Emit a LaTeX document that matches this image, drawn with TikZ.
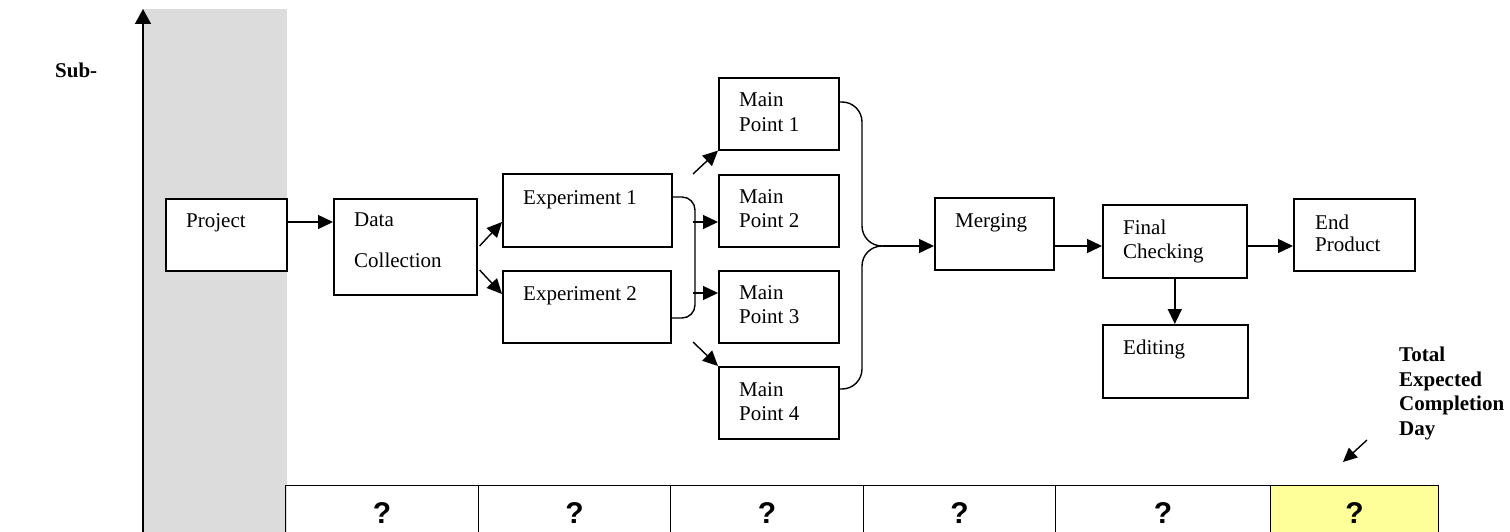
\documentclass[tikz,border=0pt]{standalone}
\usepackage{fontspec}
\setmainfont{Liberation Serif}
\newfontfamily\qfont{Liberation Sans}
\usetikzlibrary{arrows.meta,calc}
\definecolor{bandgray}{RGB}{220,220,220}
\definecolor{celly}{RGB}{255,255,153}
\begin{document}
\begin{tikzpicture}[x=1pt,y=-1pt,
  box/.style={draw, line width=1.6pt, rectangle, inner sep=0pt, anchor=north west},
  txt/.style={inner sep=0pt, anchor=north west, align=left, font=\fontsize{21}{25}\selectfont},
  btxt/.style={inner sep=0pt, anchor=north west, align=left, font=\fontsize{21}{24.5}\selectfont\bfseries},
  arr/.style={line width=1.4pt, -{Triangle[length=15pt,width=14pt]}},
  conn/.style={line width=1.4pt},
  cell/.style={draw, line width=1.2pt, rectangle, inner sep=0pt, anchor=north west, minimum height=54pt},
  qm/.style={inner sep=0pt, font=\qfont\bfseries\fontsize{30}{30}\selectfont}]
\useasboundingbox (0,0) rectangle (1510,532);
\clip (0,0) rectangle (1510,532);
\fill[white] (0,0) rectangle (1510,532);
% gray band and axis
\fill[bandgray] (143,9) rectangle (287,532);
\coordinate (axb) at (143,532);
\coordinate (axt) at (143,9);
\draw[line width=1.5pt, -{Triangle[length=15pt,width=16pt]}] (axb) -- (axt);
\node[btxt] (sub) at (55,63) {Sub-};
% boxes
\node[box, minimum width=121pt, minimum height=72pt, fill=white] (project) at (165,198) {};
\node[box, minimum width=143pt, minimum height=96pt] (dc) at (333,198) {};
\node[box, minimum width=169pt, minimum height=73pt] (e1) at (502,173) {};
\node[box, minimum width=168pt, minimum height=72pt] (e2) at (502,270) {};
\node[box, minimum width=120pt, minimum height=72pt] (mp1) at (718,77) {};
\node[box, minimum width=120pt, minimum height=72pt] (mp2) at (718,174) {};
\node[box, minimum width=120pt, minimum height=72pt] (mp3) at (718,270) {};
\node[box, minimum width=120pt, minimum height=72pt] (mp4) at (718,366) {};
\node[box, minimum width=119pt, minimum height=72pt] (merge) at (934,197) {};
\node[box, minimum width=144pt, minimum height=73pt] (fc) at (1102,204) {};
\node[box, minimum width=145pt, minimum height=73pt] (ed) at (1102,324) {};
\node[box, minimum width=121pt, minimum height=72pt] (ep) at (1293,198) {};
% texts
\node[txt] (tproject) at (186,213) {Project};
\node[txt, font=\fontsize{21}{41}\selectfont] (tdc) at (354,213) {Data\\Collection};
\node[txt] (te1) at (523,190) {Experiment 1};
\node[txt] (te2) at (523,286) {Experiment 2};
\node[txt] (tmp1) at (739,92) {Main\\Point 1};
\node[txt, font=\fontsize{21}{24}\selectfont] (tmp2) at (739,189) {Main\\Point 2};
\node[txt, font=\fontsize{21}{24}\selectfont] (tmp3) at (739,285) {Main\\Point 3};
\node[txt, font=\fontsize{21}{24}\selectfont] (tmp4) at (739,382) {Main\\Point 4};
\node[txt] (tmerge) at (955,213) {Merging};
\node[txt, font=\fontsize{21}{24}\selectfont] (tfc) at (1123,220) {Final\\Checking};
\node[txt] (ted) at (1123,340) {Editing};
\node[txt, font=\fontsize{21}{22}\selectfont] (tep) at (1315,215) {End\\Product};
\node[btxt] (total) at (1399,347) {Total\\Expected\\Completion\\Day};
% connectors
\draw[arr] ($(project.north east)+(0,24)$) -- ($(dc.north west)+(0,24)$);
\draw[arr] ($(dc.north east)+(2,48)$) -- ($(e1.north west)+(0,49)$);
\draw[arr] ($(dc.north east)+(2,72)$) -- ($(e2.north west)+(0,24)$);
\coordinate (lb) at (695,318);
\draw[conn, rounded corners=13pt] ($(e1.north east)+(0,24)$) -| (lb) -- ($(e2.north east)+(0,48)$);
\draw[arr] ($(mp2.north west)+(-25,48)$) -- ($(mp2.north west)+(0,48)$);
\draw[arr] ($(mp3.north west)+(-25,23)$) -- ($(mp3.north west)+(0,23)$);
\coordinate (a1) at (693,174);
\coordinate (a4) at (693,342);
\draw[arr] (a1) -- (mp1.south west);
\draw[arr] (a4) -- (mp4.north west);
\coordinate (rb) at (862,246);
\coordinate (tip) at (883,246);
\draw[conn, rounded corners=20pt] ($(mp1.north east)+(0,25)$) -| (rb) -- (tip);
\draw[conn, rounded corners=20pt] ($(mp4.north east)+(0,23)$) -| (rb) -- (tip);
\draw[arr] (tip) -- ($(merge.north west)+(0,49)$);
\draw[arr] ($(merge.north east)+(0,49)$) -- ($(fc.north west)+(0,42)$);
\draw[arr] ($(fc.north east)+(0,42)$) -- ($(ep.north west)+(0,48)$);
\draw[arr] (fc.south) -- (fc.south |- ed.north);
% bottom row
\node[cell, minimum width=193pt] (c1) at (285,485) {};
\node[cell, minimum width=192pt] (c2) at (478,485) {};
\node[cell, minimum width=193pt] (c3) at (670,485) {};
\node[cell, minimum width=192pt] (c4) at (863,485) {};
\node[cell, minimum width=215pt] (c5) at (1055,485) {};
\node[cell, minimum width=168pt, fill=celly] (c6) at (1270,485) {};
\node[qm] (q1) at (c1) {?};
\node[qm] (q2) at (c2) {?};
\node[qm] (q3) at (c3) {?};
\node[qm] (q4) at (c4) {?};
\node[qm] (q5) at (c5) {?};
\node[qm] (q6) at (c6) {?};
\coordinate (ts) at (1367,440);
\coordinate (tend) at (1343,462);
\draw[line width=1.4pt, -{Triangle[length=14pt,width=13pt]}] (ts) -- (tend);
\end{tikzpicture}
\end{document}
